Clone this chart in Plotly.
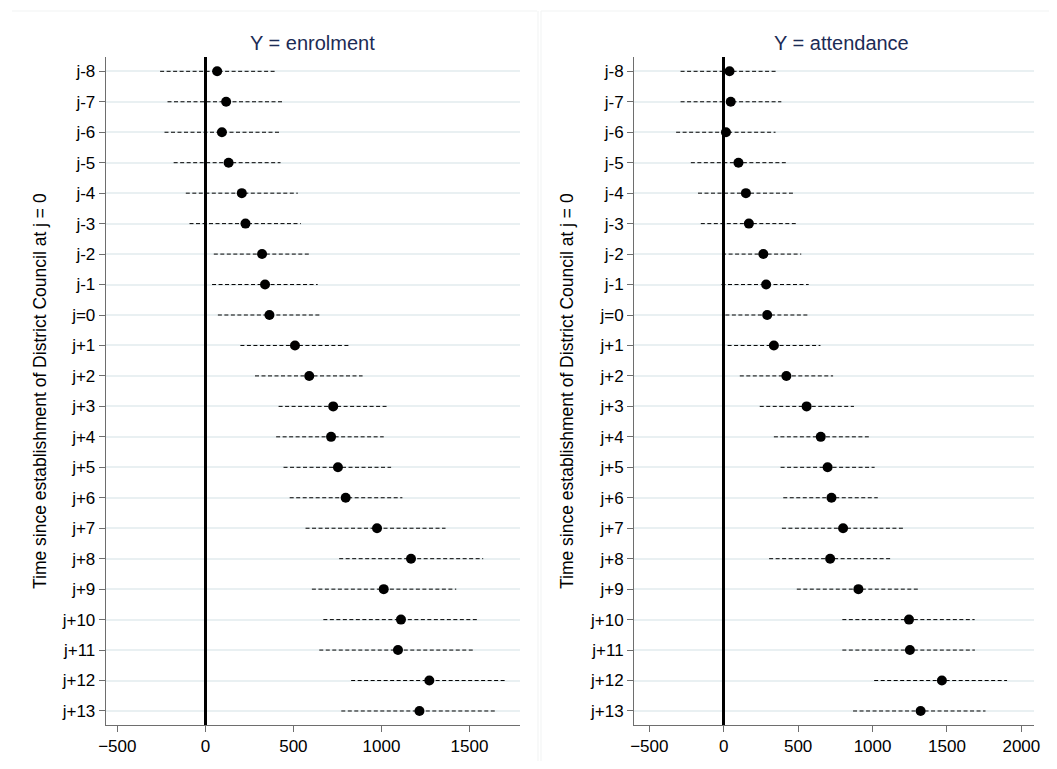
import plotly.graph_objects as go

# ---------------- data ----------------
periods = ["j-8", "j-7", "j-6", "j-5", "j-4", "j-3", "j-2", "j-1", "j=0",
           "j+1", "j+2", "j+3", "j+4", "j+5", "j+6", "j+7", "j+8", "j+9",
           "j+10", "j+11", "j+12", "j+13"]

enrol_est = [67, 118, 94, 132, 207, 228, 322, 339, 364, 509, 590, 726, 714, 753,
             797, 975, 1168, 1013, 1111, 1094, 1272, 1216]
enrol_lo = [-257, -215, -232, -180, -111, -90, 48, 38, 71, 199, 282, 416, 402, 444,
            479, 569, 760, 605, 670, 647, 828, 772]
enrol_hi = [397, 437, 423, 427, 525, 542, 595, 638, 661, 814, 893, 1029, 1013, 1055,
            1119, 1364, 1578, 1425, 1549, 1526, 1709, 1647]

attend_est = [39, 47, 15, 99, 149, 169, 266, 285, 292, 337, 421, 557, 652, 698,
              724, 802, 715, 905, 1245, 1251, 1466, 1323]
attend_lo = [-290, -290, -320, -221, -173, -154, -11, -15, 11, 26, 108, 242, 337, 382,
             400, 391, 305, 491, 797, 797, 1011, 869]
attend_hi = [350, 387, 348, 417, 465, 484, 521, 571, 579, 650, 735, 875, 975, 1014,
             1035, 1210, 1132, 1321, 1686, 1688, 1904, 1759]

titles = ["Y = enrolment", "Y = attendance"]
ytitle = "Time since establishment of District Council at j = 0"
xticks_left = [-500, 0, 500, 1000, 1500]
xticks_right = [-500, 0, 500, 1000, 1500, 2000]

# ---------------- figure ----------------
OFF = 8  # page body margin
W, H = 1057 - OFF, 769 - 2 * OFF
FONT = "Liberation Sans, Arial, Helvetica, sans-serif"
TITLE_COLOR = "#1c2b55"
GRID = "#e9f0f2"
AXIS = "#6e6e6e"

fig = go.Figure()
ypos = list(range(len(periods)))

panels = [
    (enrol_est, enrol_lo, enrol_hi, "x", "y"),
    (attend_est, attend_lo, attend_hi, "x2", "y2"),
]
for est, lo, hi, xa, ya in panels:
    xs, ys = [], []
    for i in ypos:
        xs += [lo[i], hi[i], None]
        ys += [i, i, None]
    fig.add_trace(go.Scatter(x=xs, y=ys, mode="lines", xaxis=xa, yaxis=ya,
                             line=dict(color="black", width=1, dash="4px,2.5px"),
                             hoverinfo="skip", showlegend=False))
    fig.add_trace(go.Scatter(x=est, y=ypos, mode="markers", xaxis=xa, yaxis=ya,
                             marker=dict(color="black", size=10, line=dict(width=0)),
                             showlegend=False))

top_px, bot_px = 57 - OFF, 725 - OFF
ydom = [1 - bot_px / H, 1 - top_px / H]
yrange = [21.46, -0.47]

L1, R1 = 105.7 - OFF, 520 - OFF
L2, R2 = 634.0 - OFF, 1034 - OFF

TICKFONT = dict(size=17, color="black", family=FONT)
common_x = dict(showgrid=False, zeroline=True, zerolinecolor="black", zerolinewidth=3,
                showline=True, linecolor=AXIS, linewidth=1, ticks="outside",
                ticklen=6, tickcolor=AXIS, tickfont=TICKFONT, automargin=False)
common_y = dict(showgrid=True, gridcolor=GRID, gridwidth=2, zeroline=False,
                showline=True, linecolor=AXIS, linewidth=1, ticks="outside",
                ticklen=6, tickcolor=AXIS, tickfont=TICKFONT, automargin=False,
                tickvals=ypos, ticktext=periods, range=yrange)

fig.update_layout(
    template="none",
    width=W, height=H, margin=dict(l=0, r=0, t=0, b=0, pad=0), autosize=False,
    paper_bgcolor="white", plot_bgcolor="white",
    font=dict(family=FONT, color="black"),
    xaxis=dict(domain=[L1 / W, R1 / W], range=[-566, 1787], tickvals=xticks_left,
               anchor="y", **common_x),
    yaxis=dict(domain=ydom, anchor="x", **common_y),
    xaxis2=dict(domain=[L2 / W, R2 / W], range=[-603, 2085], tickvals=xticks_right,
                anchor="y2", **common_x),
    yaxis2=dict(domain=ydom, anchor="x2", **common_y),
)

# panel titles and y-axis titles
for cx, t in [((L1 + R1) / 2, titles[0]), ((L2 + R2 + 14) / 2, titles[1])]:
    fig.add_annotation(x=cx / W, y=1 - (43 - OFF) / H, xref="paper", yref="paper",
                       text=t, showarrow=False, xanchor="center", yanchor="middle",
                       font=dict(size=20, color=TITLE_COLOR, family=FONT))
for cx in [40 - OFF, 567 - OFF]:
    fig.add_annotation(x=cx / W, y=1 - ((top_px + bot_px) / 2) / H, xref="paper",
                       yref="paper", text=ytitle, showarrow=False, textangle=-90,
                       xanchor="center", yanchor="middle",
                       font=dict(size=17.5, color="black", family=FONT))

# faint region borders of the combined graph
faint = "#f1f3f3"
for x0, x1 in [(12, 537), (541, 1057)]:
    fig.add_shape(type="line", xref="paper", yref="paper", x0=(x0 - OFF) / W,
                  x1=(x1 - OFF) / W, y0=1 - (11 - OFF) / H, y1=1 - (11 - OFF) / H,
                  line=dict(color=faint, width=1))
for xv in [538, 541]:
    fig.add_shape(type="line", xref="paper", yref="paper", x0=(xv - OFF) / W,
                  x1=(xv - OFF) / W, y0=0, y1=1 - (11 - OFF) / H,
                  line=dict(color=faint, width=1))

fig.write_html("out.html")
